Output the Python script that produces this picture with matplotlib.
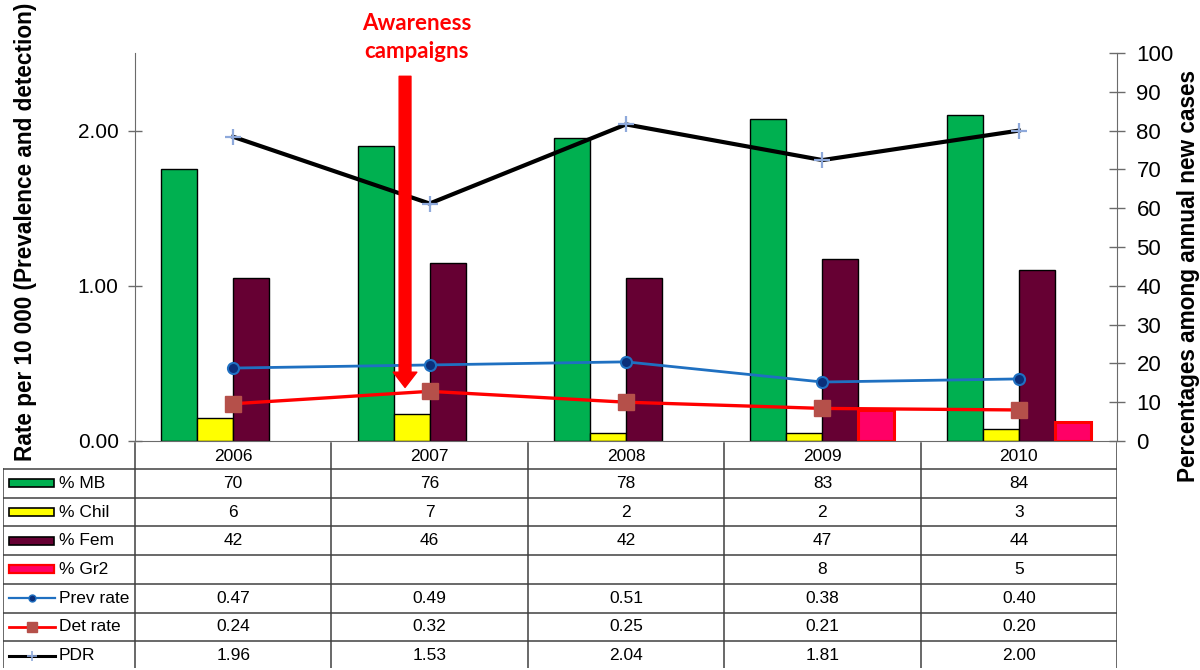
import numpy as np
import matplotlib.pyplot as plt
from matplotlib.patches import Rectangle
from matplotlib.lines import Line2D

plt.rcParams['font.family'] = ['Liberation Sans', 'DejaVu Sans']

years = ['2006', '2007', '2008', '2009', '2010']
pct_mb = [70, 76, 78, 83, 84]
pct_chil = [6, 7, 2, 2, 3]
pct_fem = [42, 46, 42, 47, 44]
pct_gr2 = [np.nan, np.nan, np.nan, 8, 5]
prev_rate = [0.47, 0.49, 0.51, 0.38, 0.40]
det_rate = [0.24, 0.32, 0.25, 0.21, 0.20]
pdr = [1.96, 1.53, 2.04, 1.81, 2.00]

W, H = 1200, 670
fig = plt.figure(figsize=(12, 6.7), dpi=100)
ax = fig.add_axes([135/W, 229/H, 982/W, 388/H])
ax2 = ax.twinx()
ax.set_zorder(ax2.get_zorder() + 1)
ax.patch.set_visible(False)

x = np.arange(len(years))
px = 5.0 / 982          # one pixel in category units
bw = 36 * px
axis_col = '#6b6b6b'

# bars (right axis, percentages)
ax2.bar(x - 1.5*bw, pct_mb, bw, color='#00B050', edgecolor='black', lw=1)
ax2.bar(x - 0.5*bw, pct_chil, bw, color='#FFFF00', edgecolor='black', lw=1)
ax2.bar(x + 0.5*bw, pct_fem, bw, color='#660033', edgecolor='black', lw=1)
ax2.bar(x + 1.5*bw, pct_gr2, bw, color='#FF0066', edgecolor='#FF0000', lw=2.2)

# lines (left axis, rates)
ax.plot(x, prev_rate, color='#1F70C1', lw=2, marker='o', ms=8,
        mfc='#0B2F7A', mec='#1F70C1', mew=1.5)
ax.plot(x, det_rate, color='#FF0000', lw=2.4, marker='s', ms=12,
        mfc='#B5504A', mec='#B5504A')
ax.plot(x, pdr, color='black', lw=3, marker='+', ms=12,
        mec='#8EA9DB', mew=1.6)

ax.set_xlim(-0.5, 4.5)
ax.set_ylim(0, 2.5)
ax2.set_ylim(0, 100)
ax.set_xticks([])
ax.set_yticks([0, 1, 2])
ax.set_yticklabels(['0.00', '1.00', '2.00'])
ax2.set_yticks(range(0, 101, 10))
ax.tick_params(axis='y', direction='inout', length=9.5, width=1,
               color=axis_col, labelsize=15, pad=7)
ax2.tick_params(axis='y', direction='inout', length=12, width=1,
                color=axis_col, labelsize=16, pad=8)

for s in ['top', 'right']:
    ax.spines[s].set_visible(False)
for s in ['top', 'left', 'bottom']:
    ax2.spines[s].set_visible(False)
ax.spines['left'].set_color(axis_col)
ax.spines['bottom'].set_color(axis_col)
ax2.spines['right'].set_color(axis_col)

ax.set_ylabel('Rate per 10 000 (Prevalence and detection)',
              fontsize=16.3, fontweight='bold')
ax.yaxis.set_label_coords(-0.1, 0.539)
ax2.set_ylabel('Percentages among annual new cases',
               fontsize=16.3, fontweight='bold')
ax2.yaxis.set_label_coords(1.061, 0.424)

# annotation
ax.annotate('', xy=(0.875, 0.345), xytext=(0.875, 2.35),
            arrowprops=dict(color='#FF0000', width=8.5, headwidth=17,
                            headlength=11, shrink=0))
ax.text(0.935, 2.6, 'Awareness\ncampaigns', color='#FF0000',
        fontsize=16, fontweight='bold', family=['Lato', 'DejaVu Sans'],
        ha='center', va='center', linespacing=1.45, clip_on=False)

# data table below the plot
lab_w = 132 * px
tax = fig.add_axes([3/W, 2/H, 1114/W, 439/H])
tax.set_xlim(-0.5 - lab_w, 4.5)
tax.set_ylim(439, 0)
tax.axis('off')
tab_col = '#404040'
row0 = 214.0             # table top, px below axes top
hdr = 26.0
rh = 28.7
rows_y = [row0 + hdr + i*rh for i in range(8)]

names = ['% MB', '% Chil', '% Fem', '% Gr2', 'Prev rate', 'Det rate', 'PDR']
vals = [pct_mb, pct_chil, pct_fem, pct_gr2, prev_rate, det_rate, pdr]
fmts = ['{:.0f}', '{:.0f}', '{:.0f}', '{:.0f}', '{:.2f}', '{:.2f}', '{:.2f}']
keys = [('bar', '#00B050', 'black'), ('bar', '#FFFF00', 'black'),
        ('bar', '#660033', 'black'), ('bar', '#FF0066', '#FF0000'),
        ('line', '#1F70C1', 'o'), ('line', '#FF0000', 's'),
        ('line', 'black', '+')]

xl = -0.5 - lab_w
# header row
for i, yr in enumerate(years):
    tax.text(x[i], row0 + hdr/2 + 1, yr, ha='center', va='center', fontsize=12.5)
for yy in rows_y:
    tax.plot([xl, 4.5], [yy, yy], color=tab_col, lw=1.1)
tax.plot([xl, 4.5], [rows_y[-1], rows_y[-1]], color='#808080', lw=2)
tax.plot([xl, xl], [rows_y[0], rows_y[-1]], color=tab_col, lw=1.1)
for xv in np.arange(-0.5, 5, 1.0):
    tax.plot([xv, xv], [row0, rows_y[-1]], color=tab_col, lw=1.1)

for r in range(7):
    yc = rows_y[r] + rh/2
    kind, c, m = keys[r]
    if kind == 'bar':
        tax.add_patch(Rectangle((xl + 6*px, yc - 4), 45*px, 8, facecolor=c,
                                edgecolor=m, lw=1.6 if m == '#FF0000' else 1.2))
    else:
        if m == 'o':
            tax.add_line(Line2D([xl + 6*px, xl + 52*px], [yc, yc], color=c, lw=1.6))
            tax.plot(xl + 29*px, yc, marker='o', ms=5, mfc='#0B2F7A', mec=c)
        elif m == 's':
            tax.add_line(Line2D([xl + 6*px, xl + 52*px], [yc, yc], color=c, lw=2))
            tax.plot(xl + 29*px, yc, marker='s', ms=7, mfc='#B5504A', mec='#B5504A')
        else:
            tax.add_line(Line2D([xl + 6*px, xl + 52*px], [yc, yc], color=c, lw=2.2))
            tax.plot(xl + 29*px, yc, marker='+', ms=7, mec='#8EA9DB', mew=1.2)
    tax.text(xl + 56*px, yc, names[r], ha='left', va='center', fontsize=12.5)
    for i in range(len(years)):
        v = vals[r][i]
        if not np.isnan(v):
            tax.text(x[i], yc, fmts[r].format(v), ha='center', va='center',
                     fontsize=12.5)

fig.savefig('out.png', dpi=100)
